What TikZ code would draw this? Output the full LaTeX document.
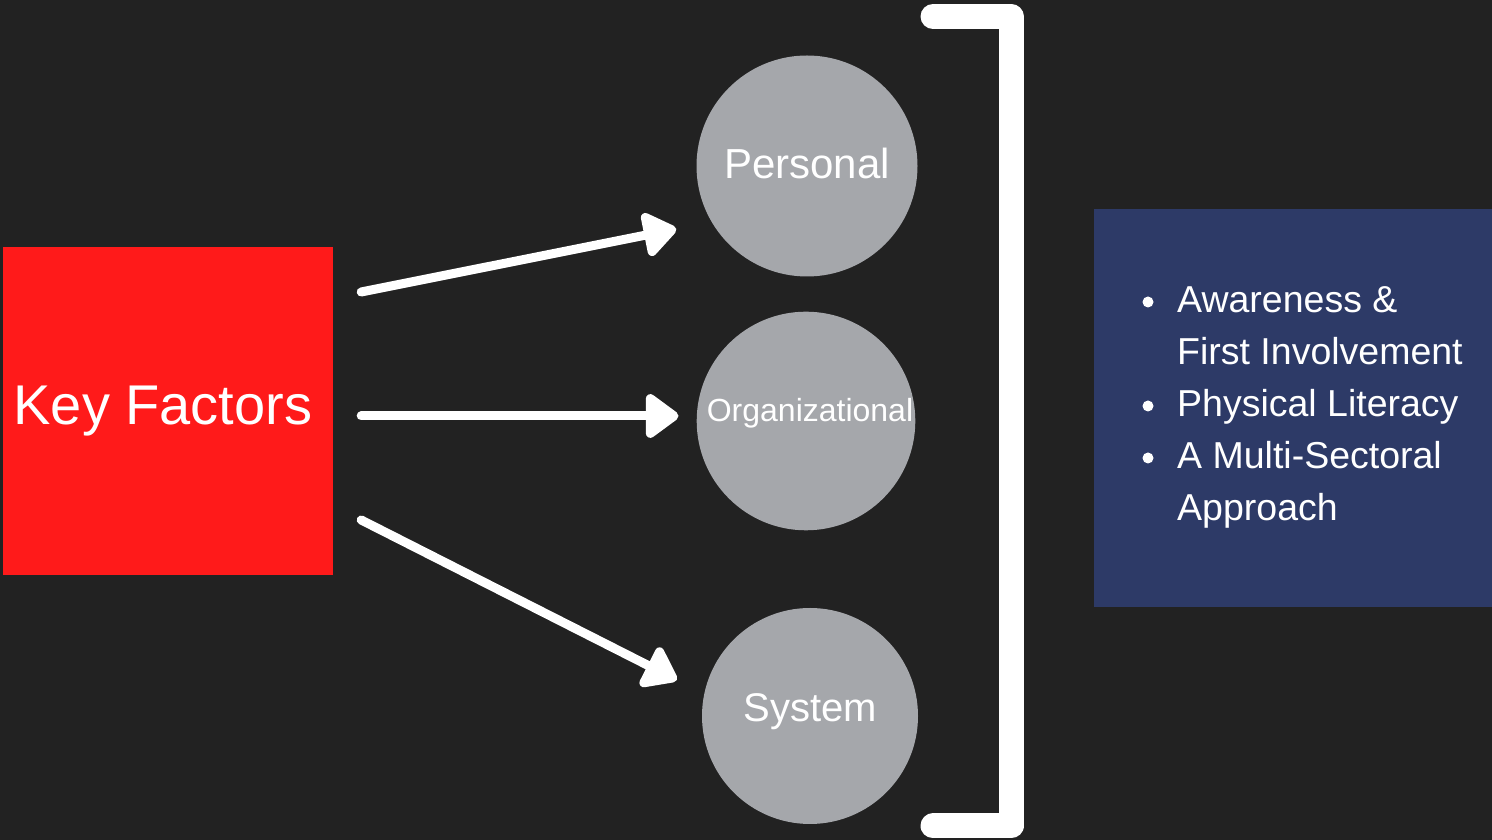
\documentclass[tikz,border=0pt]{standalone}
\usepackage{fontspec}
\setmainfont{Liberation Sans}
\usetikzlibrary{arrows.meta, positioning}
\definecolor{fondo}{HTML}{222222}
\definecolor{rojo}{HTML}{FF1A1A}
\definecolor{gris}{HTML}{A5A7AB}
\definecolor{azul}{HTML}{2D3A67}

\begin{document}
\begin{tikzpicture}[x=1pt, y=1pt,
      key/.style={fill=rojo, text=white, inner sep=0pt,
                  minimum width=330pt, minimum height=328pt,
                  font=\fontsize{56}{62}\selectfont},
      factor/.style={circle, fill=gris, text=white, inner sep=0pt},
      panel/.style={fill=azul, inner sep=0pt,
                    minimum width=398pt, minimum height=398pt},
      item/.style={text=white, inner sep=0pt, anchor=base west,
                   font=\fontsize{37.5}{44}\selectfont},
      arrow/.style={-{Triangle[length=36pt, width=50pt, round]},
                    line width=9pt, white, line cap=round} ]

    \useasboundingbox (0,0) rectangle (1492,840);
    \fill[fondo] (0,0) rectangle (1492,840);

    \node[key] (key) at (168,429) {\hspace*{-10pt}Key Factors};

    % text depth lifts each label a little above the centre
    \node[factor, minimum size=221pt, text depth=5pt,
          font=\fontsize{42}{48}\selectfont]
      (personal) at (807,674) {Personal};
    \node[factor, minimum size=218pt, text depth=22pt,
          font=\fontsize{32}{38}\selectfont]
      (org) at (806,419) {\hspace*{8pt}Organizational};
    \node[factor, minimum size=216pt, text depth=16pt,
          font=\fontsize{40}{46}\selectfont]
      (system) at (810,124) {System};

    \draw[arrow] ([shift={(28,119)}]key.east)  -- ([shift={(-20,-63)}]personal.west);
    \draw[arrow] ([shift={(28,-5)}]key.east)   -- ([shift={(-18,5)}]org.west);
    \draw[arrow] ([shift={(28,-109)}]key.east) -- ([shift={(-25,36)}]system.west);

    % bracket round the three factors
    \draw[white, line width=25pt, line cap=round, line join=round]
      (933,823.5) -- (1011,823.5) -- (1011,14) -- (933,14);

    \node[panel] (panel) at (1293,432) {};
    \foreach \yy/\txt [count=\i] in {527/Awareness \&, 475/First Involvement,
        423/Physical Literacy, 371/A Multi-Sectoral, 319/Approach}
      \node[item] (item\i) at (1177,\yy) {\txt};
    \foreach \i in {1,3,4}
      \fill[white] ([shift={(-29,11)}]item\i.base west) circle (5.5);
  \end{tikzpicture}
\end{document}
